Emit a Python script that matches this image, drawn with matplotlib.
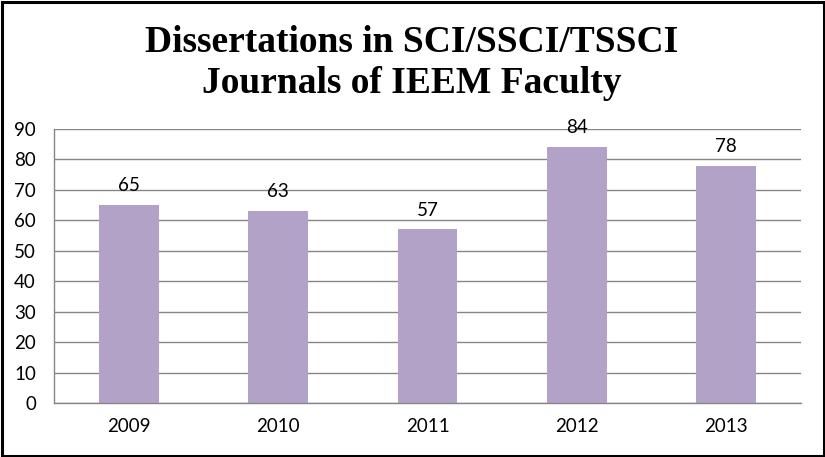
import matplotlib
matplotlib.use('Agg')
import matplotlib.pyplot as plt
from matplotlib.patches import Rectangle

years = ['2009', '2010', '2011', '2012', '2013']
papers = [65, 63, 57, 84, 78]
title_lines = ['Dissertations in SCI/SSCI/TSSCI', 'Journals of IEEM Faculty']

plt.rcParams['font.family'] = ['Lato', 'DejaVu Sans']

fig = plt.figure(figsize=(8.25, 4.57), dpi=100)
ax = fig.add_axes([0.0655, 0.1182, 0.9055, 0.5995])

# barras
x = range(len(years))
barras = ax.bar(x, papers, width=0.4, color='#B3A2C7', zorder=2)

# rotulos de dados
for b, v in zip(barras, papers):
    ax.annotate(str(v), (b.get_x() + b.get_width() / 2, v), xytext=(0, 10),
                textcoords='offset points', ha='center', va='baseline',
                fontsize=13.5, color='#000000')

ax.set_xlim(-0.5, len(years) - 0.5)
ax.set_ylim(0, 90)
ax.set_yticks(range(0, 91, 10))
ax.set_xticks(list(x))
ax.set_xticklabels(years)
ax.tick_params(axis='both', length=0, labelsize=13.5, colors='#000000')
ax.tick_params(axis='x', pad=11)
ax.tick_params(axis='y', pad=13)

ax.yaxis.grid(True, color='#868686', linewidth=1.0, zorder=0)
ax.set_axisbelow(True)
for s in ['top', 'right']:
    ax.spines[s].set_visible(False)
for s in ['left', 'bottom']:
    ax.spines[s].set_color('#868686')
    ax.spines[s].set_linewidth(1.0)

# titulo em duas linhas
fig.text(0.499, 0.887, title_lines[0], ha='center', va='baseline',
         fontsize=27, fontweight='bold', family='Liberation Serif')
fig.text(0.499, 0.7965, title_lines[1], ha='center', va='baseline',
         fontsize=27, fontweight='bold', family='Liberation Serif')

# moldura preta
fig.patches.append(Rectangle((1.5 / 825, 1.5 / 457), 1 - 3 / 825, 1 - 3 / 457,
                             transform=fig.transFigure, fill=False,
                             edgecolor='black', linewidth=2.2))

fig.savefig('out.png', dpi=100)
